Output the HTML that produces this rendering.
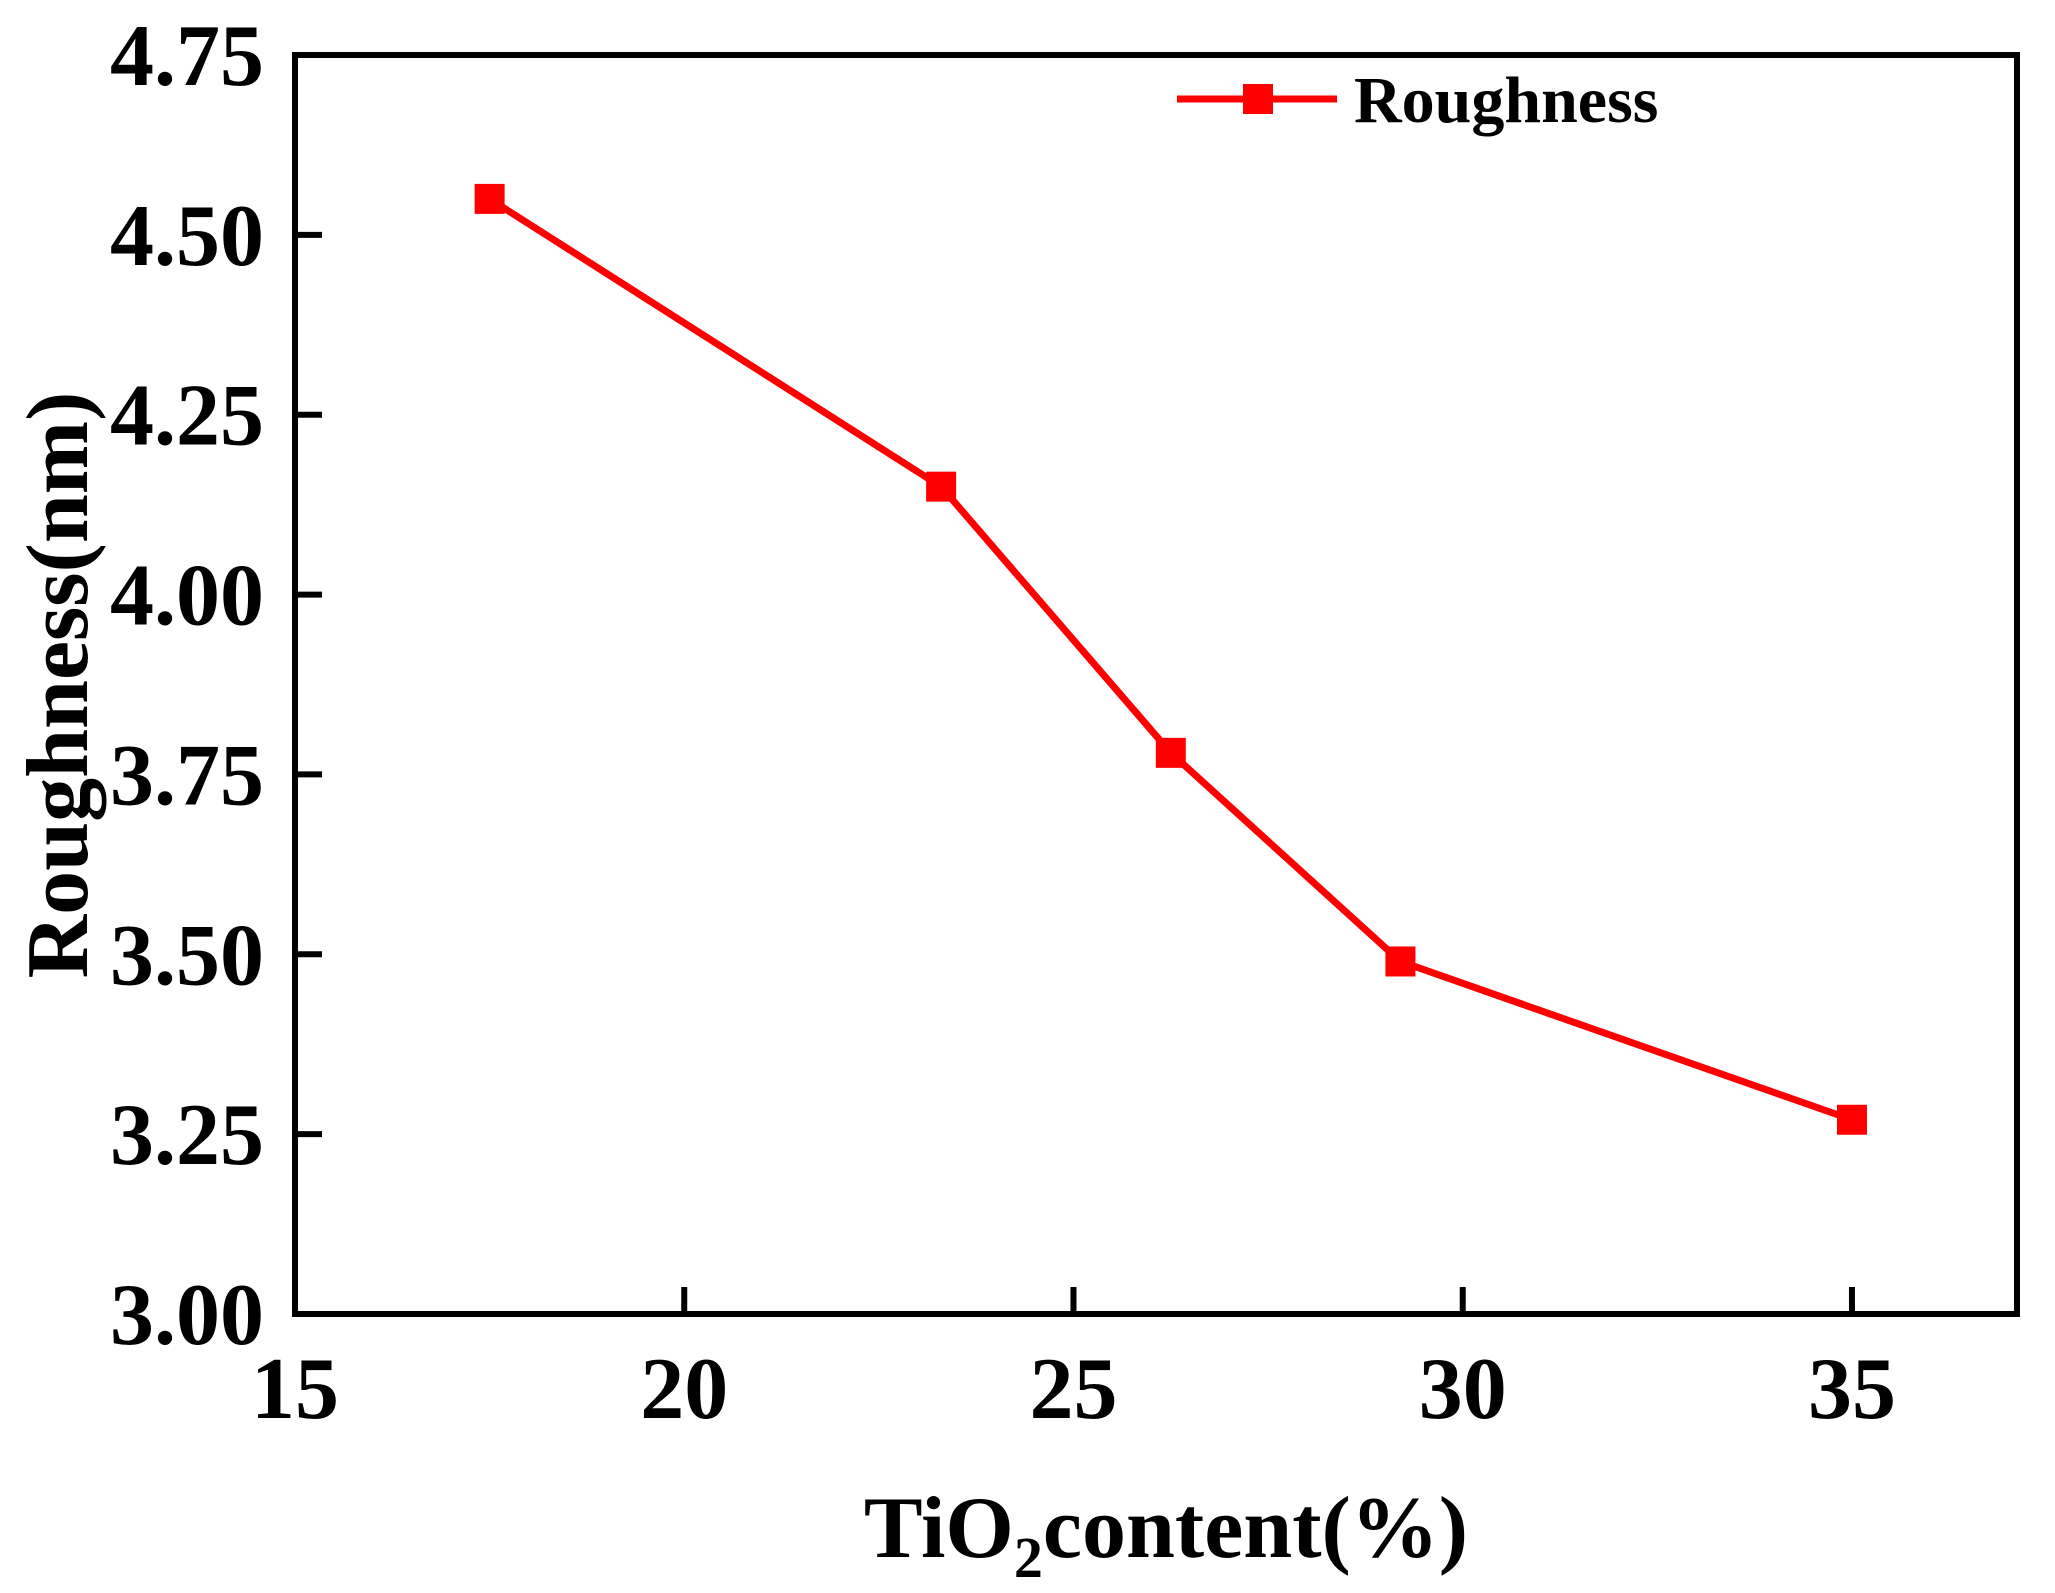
<!DOCTYPE html>
<html><head><meta charset="utf-8"><style>
html,body{margin:0;padding:0;background:#fff}
svg{display:block}
text{font-family:"Liberation Serif",serif;font-weight:bold;fill:#000}
</style></head><body>
<svg id="chart" width="2055" height="1593" viewBox="0 0 2055 1593"></svg>
<script>
const xValues=[17.5,23.3,26.25,29.2,35];
const roughness=[4.55,4.15,3.78,3.49,3.27];
const xTicks=[15,20,25,30,35];
const yTicks=[3.00,3.25,3.50,3.75,4.00,4.25,4.50,4.75];
const seriesName="Roughness";

const L=295,R=2017,T=55,B=1314;
const xMin=15,xMax=37.12,yMin=3,yMax=4.75;
const sx=v=>L+(v-xMin)/(xMax-xMin)*(R-L);
const sy=v=>B-(v-yMin)/(yMax-yMin)*(B-T);
const NS="http://www.w3.org/2000/svg";
const svg=document.getElementById('chart');
function mk(tag,attrs,parent){const e=document.createElementNS(NS,tag);for(const k in attrs)e.setAttribute(k,attrs[k]);(parent||svg).appendChild(e);return e;}

const frame=mk('rect',{x:L,y:T,width:R-L,height:B-T,fill:'none',stroke:'#000','stroke-width':6});



yTicks.forEach(t=>{
  const y=sy(t);
  const tk=mk('line',{x1:L,x2:L+27,y1:y,y2:y,stroke:'#000','stroke-width':6});
  
  
  const lb=mk('text',{x:264,y:y+30,'text-anchor':'end','font-size':88});
  lb.textContent=t.toFixed(2);
  
  
});
xTicks.forEach(t=>{
  const x=sx(t);
  const tk=mk('line',{x1:x,x2:x,y1:B,y2:B-27,stroke:'#000','stroke-width':6});
  
  
  const lb=mk('text',{x:x,y:1418,'text-anchor':'middle','font-size':88});
  lb.textContent=t;
  
  
});

const pts=xValues.map((v,i)=>sx(v)+','+sy(roughness[i])).join(' ');
const line=mk('polyline',{points:pts,fill:'none',stroke:'#ff0000','stroke-width':7,'stroke-linejoin':'round'});


xValues.forEach((v,i)=>{
  const m=mk('rect',{x:sx(v)-15,y:sy(roughness[i])-15,width:30,height:30,fill:'#ff0000'});
  
  
});

const lg=mk('g',{});


const ll=mk('line',{x1:1177,x2:1337,y1:99,y2:99,stroke:'#ff0000','stroke-width':7},lg);


const lm=mk('rect',{x:1243,y:84,width:30,height:30,fill:'#ff0000'},lg);


const lt=mk('text',{x:1354,y:122,'font-size':66},lg);
lt.textContent=seriesName;



const yt=mk('text',{x:0,y:0,'text-anchor':'middle','font-size':88,transform:'translate(87,685) rotate(-90)'});
yt.textContent='Roughness(nm)';



const xt=mk('text',{x:1166,y:1557,'text-anchor':'middle','font-size':88});
xt.innerHTML='TiO<tspan font-size="58" dy="20">2</tspan><tspan dy="-20">content(%)</tspan>';


</script>
</body></html>
